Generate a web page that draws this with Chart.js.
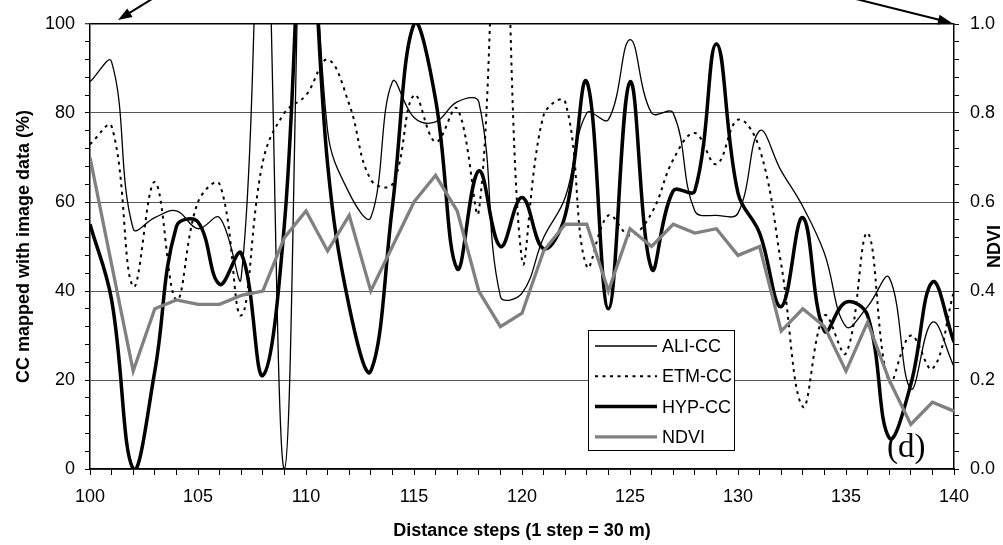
<!DOCTYPE html>
<html>
<head>
<meta charset="utf-8">
<title>CC mapped with image data vs NDVI</title>
<script src="https://cdn.jsdelivr.net/npm/chart.js@4.4.1/dist/chart.umd.min.js"></script>
<style>
  html, body { margin: 0; padding: 0; background: #fff; }
  canvas { display: block; }
</style>
</head>
<body>
<canvas id="chart" width="1003" height="545"></canvas>
<script>
/* ============================
   DATI
============================ */

const steps = [100, 101, 102, 103, 104, 105, 106, 107, 108, 109,
  110, 111, 112, 113, 114, 115, 116, 117, 118, 119,
  120, 121, 122, 123, 124, 125, 126, 127, 128, 129,
  130, 131, 132, 133, 134, 135, 136, 137, 138, 139, 140];

const aliCC = [87, 91.5, 54, 56.5, 58, 54, 56.5, 43, 145, 0,
  150, 76, 62, 56.5, 87, 79, 78, 82.5, 82.5, 38.8,
  39.5, 52, 61, 80, 78.5, 96.5, 80, 80, 58, 57,
  57.5, 76, 67, 59, 48.5, 32, 36.5, 43, 18, 33, 23];

const etmCC = [73, 77, 41, 64.5, 38, 60, 64, 34.5, 69, 80,
  84, 92, 82, 65, 64, 84, 73.5, 81, 58, 150,
  47, 79.5, 82.5, 45.5, 57, 52.5, 57.5, 69.5, 75.5, 68.5,
  78.5, 72, 46, 14, 34.5, 26, 53, 19.5, 30, 22.5, 40];

const hypCC = [55, 38, 0, 22, 54.5, 55.5, 41.5, 48.5, 21, 55,
  135, 68.5, 36.5, 22, 59, 100, 83, 45, 67, 50,
  61, 49.5, 57, 87, 36, 87, 45, 62.5, 62.5, 95.5,
  62, 53, 36.5, 56.5, 31, 37.5, 34.5, 7, 19, 42, 28.5];

const ndvi = [0.70, 0.46, 0.22, 0.36, 0.38, 0.37, 0.37, 0.39, 0.40, 0.52,
  0.58, 0.49, 0.57, 0.40, 0.50, 0.60, 0.66, 0.58, 0.40, 0.32,
  0.35, 0.49, 0.55, 0.55, 0.40, 0.54, 0.50, 0.55, 0.53, 0.54,
  0.48, 0.50, 0.31, 0.36, 0.32, 0.22, 0.33, 0.20, 0.10, 0.15, 0.13];

const stepLabels = [100, 105, 110, 115, 120, 125, 130, 135, 140];
const ccLabels = [0, 20, 40, 60, 80, 100];
const ndviLabels = [0, 0.2, 0.4, 0.6, 0.8, 1.0];

const FONT = '"Liberation Sans", Arial, sans-serif';

function punti(valori) {
  return steps.map((s, i) => ({ x: s, y: valori[i] }));
}

/* ============================
   PLUGIN: LEGENDA E DECORI
============================ */

const legendaBox = {
  id: 'legendaBox',
  afterDatasetsDraw(chart) {
    const { ctx, chartArea } = chart;
    const x = chartArea.right - 366;
    const y = chartArea.bottom - 139;
    const w = 146, h = 120;

    ctx.save();
    ctx.fillStyle = '#fff';
    ctx.fillRect(x, y, w, h);
    ctx.strokeStyle = '#000';
    ctx.lineWidth = 1;
    ctx.strokeRect(x + 0.5, y + 0.5, w, h);

    chart.data.datasets.forEach((ds, i) => {
      const ry = y + 16 + i * 30.3;
      ctx.beginPath();
      ctx.strokeStyle = ds.borderColor;
      ctx.lineWidth = ds.borderWidth;
      ctx.setLineDash(ds.borderDash || []);
      ctx.moveTo(x + 7, ry);
      ctx.lineTo(x + 69, ry);
      ctx.stroke();
      ctx.setLineDash([]);

      ctx.fillStyle = '#000';
      ctx.font = '18px ' + FONT;
      ctx.textBaseline = 'middle';
      ctx.textAlign = 'left';
      ctx.fillText(ds.label, x + 74, ry + 1);
    });
    ctx.restore();
  }
};

function freccia(ctx, x0, y0, x1, y1) {
  const ang = Math.atan2(y1 - y0, x1 - x0);
  const len = 14, half = 5;
  ctx.beginPath();
  ctx.moveTo(x0, y0);
  ctx.lineTo(x1 - Math.cos(ang) * len * 0.8, y1 - Math.sin(ang) * len * 0.8);
  ctx.stroke();
  ctx.beginPath();
  ctx.moveTo(x1, y1);
  ctx.lineTo(x1 - Math.cos(ang) * len - Math.sin(ang) * half, y1 - Math.sin(ang) * len + Math.cos(ang) * half);
  ctx.lineTo(x1 - Math.cos(ang) * len + Math.sin(ang) * half, y1 - Math.sin(ang) * len - Math.cos(ang) * half);
  ctx.closePath();
  ctx.fill();
}

const decori = {
  id: 'decori',
  afterDraw(chart) {
    const { ctx, chartArea } = chart;
    ctx.save();

    // titolo asse destro (dal basso verso l'alto)
    ctx.fillStyle = '#000';
    ctx.font = 'bold 18px ' + FONT;
    ctx.textAlign = 'center';
    ctx.textBaseline = 'alphabetic';
    ctx.translate(1000, (chartArea.top + chartArea.bottom) / 2);
    ctx.rotate(-Math.PI / 2);
    ctx.fillText('NDVI', 0, 0);
    ctx.setTransform(1, 0, 0, 1, 0, 0);

    // etichetta pannello
    ctx.font = '33px "Liberation Serif", "Times New Roman", serif';
    ctx.textAlign = 'left';
    ctx.fillText('(d)', chartArea.right - 67, chartArea.bottom - 12);

    // frecce verso gli assi
    ctx.strokeStyle = '#000';
    ctx.fillStyle = '#000';
    ctx.lineWidth = 2;
    freccia(ctx, chartArea.left + 62, chartArea.top - 25, chartArea.left + 28, chartArea.top - 4);
    freccia(ctx, chartArea.right - 98, chartArea.top - 25, chartArea.right - 2, chartArea.top - 1);

    ctx.restore();
  }
};

/* ============================
   GRAFICO
============================ */

Chart.defaults.font.family = FONT;
Chart.defaults.color = '#000';

new Chart(document.getElementById('chart'), {
  type: 'line',
  data: {
    datasets: [
      {
        label: 'ALI-CC',
        data: punti(aliCC),
        borderColor: '#000',
        borderWidth: 1.3,
        tension: 0.4,
        order: 3,
        yAxisID: 'y'
      },
      {
        label: 'ETM-CC',
        data: punti(etmCC),
        borderColor: '#000',
        borderWidth: 2,
        borderDash: [3, 4.5],
        tension: 0.4,
        order: 2,
        yAxisID: 'y'
      },
      {
        label: 'HYP-CC',
        data: punti(hypCC),
        borderColor: '#000',
        borderWidth: 3.5,
        tension: 0.4,
        order: 1,
        yAxisID: 'y'
      },
      {
        label: 'NDVI',
        data: punti(ndvi),
        borderColor: '#808080',
        borderWidth: 3.3,
        tension: 0,
        order: 0,
        yAxisID: 'y2'
      }
    ]
  },
  options: {
    responsive: false,
    animation: false,
    devicePixelRatio: 1,
    layout: { padding: { top: 24, right: 0, bottom: 0, left: 0 } },
    elements: {
      point: { radius: 0, hoverRadius: 0 },
      line: { capBezierPoints: false, fill: false }
    },
    plugins: {
      legend: { display: false },
      tooltip: { enabled: false }
    },
    scales: {
      x: {
        type: 'linear',
        min: 100,
        max: 140,
        afterFit(scale) { scale.height = 76; },
        ticks: {
          stepSize: 1,
          autoSkip: false,
          maxRotation: 0,
          padding: 11,
          font: { size: 18 },
          callback: v => stepLabels.includes(v) ? String(v) : ''
        },
        grid: { drawOnChartArea: false, tickLength: 6, tickColor: '#000', tickWidth: 1 },
        border: { color: '#000', width: 1.5 },
        title: {
          display: true,
          text: 'Distance steps (1 step = 30 m)',
          font: { size: 18, weight: 'bold' },
          padding: { top: 0, bottom: 3 }
        }
      },
      y: {
        position: 'left',
        min: 0,
        max: 100,
        afterFit(scale) { scale.width = 90; },
        ticks: {
          stepSize: 4,
          autoSkip: false,
          padding: 10,
          font: { size: 18 },
          callback: v => ccLabels.includes(v) ? String(v) : ''
        },
        grid: {
          color: c => c.tick && c.tick.value === 100 ? '#000'
            : (c.tick && ccLabels.includes(c.tick.value) ? '#555' : 'rgba(0,0,0,0)'),
          lineWidth: c => c.tick && c.tick.value === 100 ? 1.5 : 1,
          tickLength: 5,
          tickColor: '#000',
          tickWidth: 1
        },
        border: { color: '#000', width: 1.5 },
        title: {
          display: true,
          text: 'CC mapped with image data (%)',
          font: { size: 18, weight: 'bold' },
          padding: { top: 13, bottom: 0 }
        }
      },
      y2: {
        position: 'right',
        min: 0,
        max: 1,
        afterFit(scale) { scale.width = 49; },
        ticks: {
          stepSize: 0.04,
          autoSkip: false,
          padding: 11,
          font: { size: 18 },
          callback: v => {
            const r = Math.round(v * 100) / 100;
            return ndviLabels.includes(r) ? r.toFixed(1) : '';
          }
        },
        grid: { drawOnChartArea: false, tickLength: 5, tickColor: '#000', tickWidth: 1 },
        border: { color: '#000', width: 1.5 }
      }
    }
  },
  plugins: [legendaBox, decori]
});
</script>
</body>
</html>
